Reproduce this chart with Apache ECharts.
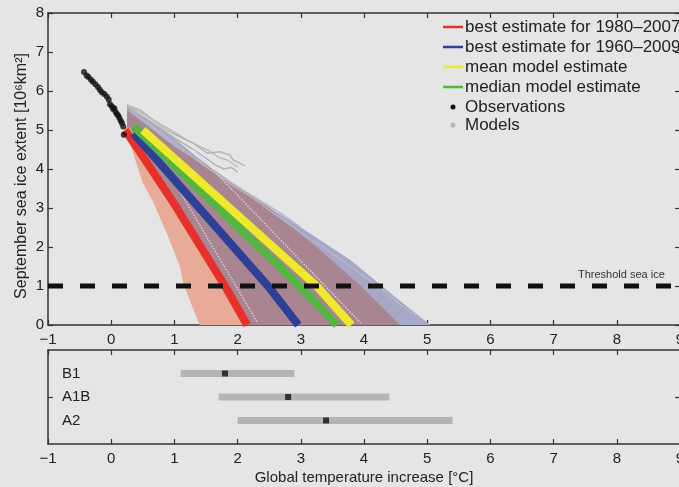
<!DOCTYPE html>
<html><head><meta charset="utf-8">
<script src="https://cdn.jsdelivr.net/npm/echarts@6/dist/echarts.min.js"></script>
<style>html,body{margin:0;padding:0;background:#e5e5e5}#c{width:679px;height:487px}</style>
</head><body><div id="c"></div>
<script>
// ---------- data ----------
const xTickValues = [-1,0,1,2,3,4,5,6,7,8,9];
const yTickValues = [0,1,2,3,4,5,6,7,8];
const obsX = [-0.43,-0.39,-0.36,-0.32,-0.29,-0.25,-0.21,-0.18,-0.15,-0.11,-0.07,-0.04,-0.02,0.01,0.03,0.05,0.07,0.09,0.11,0.13,0.15,0.17,0.19,0.20];
const obsY = [6.49,6.40,6.36,6.29,6.24,6.17,6.10,6.03,5.97,5.92,5.86,5.78,5.66,5.61,5.54,5.56,5.46,5.41,5.37,5.31,5.24,5.18,5.09,4.88];
const modelLine1 = [[0.25,5.64],[0.46,5.51],[0.66,5.26],[0.88,5.0],[1.09,4.82],[1.29,4.67],[1.52,4.41],[1.72,4.44],[1.88,4.36],[1.93,4.23],[2.12,4.08]];
const modelLine2 = [[0.3,5.55],[0.55,5.3],[0.8,5.02],[1.05,4.75],[1.3,4.5],[1.5,4.28],[1.65,4.1],[1.78,4.0],[1.9,4.04],[2.0,3.92]];
const modelLine3 = [[0.3,5.5],[0.6,5.15],[0.9,4.8],[1.2,4.42],[1.5,4.05],[1.8,3.75],[2.1,3.45],[2.4,3.15],[2.7,2.85],[3.0,2.5]];
const modelLine4 = [[0.35,5.45],[0.7,5.0],[1.0,4.6],[1.3,4.3],[1.6,3.95],[1.9,3.6],[2.2,3.3],[2.5,2.95],[2.8,2.6],[3.1,2.25],[3.4,1.95],[3.7,1.6],[4.0,1.25],[4.3,0.9],[4.6,0.5],[4.9,0.15]];
const modelLine5 = [[0.28,5.6],[0.5,5.42],[0.75,5.18],[1.0,4.95],[1.2,4.74],[1.4,4.58],[1.55,4.47],[1.7,4.3],[1.85,4.22],[2.0,4.05]];
const dotLine1 = [[1.3,4.5],[3.95,0.05]];
const dotLine2 = [[0.6,4.75],[2.32,0.05]];
const lavenderBand = [[0.25,5.62],[0.8,5.05],[1.4,4.25],[1.9,3.65],[2.31,3.21],[2.99,2.51],[3.4,2.08],[3.78,1.67],[4.36,0.9],[4.7,0.45],[5.05,0],[2.15,0],[0.25,5.0]];
const mauveBand = [[0.25,5.5],[0.9,4.7],[1.6,4.0],[2.5,3.0],[3.25,2.0],[3.95,1.0],[4.57,0],[2.15,0],[0.25,5.0]];
const salmonBand = [[0.2,5.1],[0.33,4.49],[0.5,3.64],[0.65,3.2],[0.88,2.36],[1.09,1.49],[1.14,1.08],[1.25,0.6],[1.4,0],[2.15,0],[0.3,5.05]];
const redLine = [[0.22,5.0],[0.43,4.49],[1.0,3.1],[1.8,1.0],[2.15,0]];
const blueLine = [[0.35,4.92],[2.48,1.0],[2.96,0]];
const greenLine = [[0.35,5.1],[2.98,1.0],[3.57,0]];
const yellowLine = [[0.5,5.0],[3.25,1.0],[3.8,0]];
const thresholdLine = [[-1,1],[9,1]];
const scenarios = ['B1','A1B','A2'];
const scenarioY = [3,2,1];
const scenarioLow = [1.1,1.7,2.0];
const scenarioHigh = [2.9,4.4,5.4];
const scenarioBest = [1.8,2.8,3.4];
const legendNames = ['best estimate for 1980\u20132007','best estimate for 1960\u20132009','mean model estimate','median model estimate','Observations','Models'];

// ---------- chart ----------
const FONT = 'Liberation Sans, Arial, sans-serif';
const AX = '#333';
const chart = echarts.init(document.getElementById('c'), null, {renderer:'canvas'});
const minus = v => String(v).replace('-', '\u2212');

function axisBase(extra){
  return Object.assign({
    axisLine:{show:true, onZero:false, lineStyle:{color:AX, width:1.5}},
    axisTick:{show:true, inside:true, length:5, lineStyle:{color:AX, width:1.2}},
    splitLine:{show:false},
    axisLabel:{show:false}
  }, extra);
}
function band(points, color){
  return {type:'custom', xAxisIndex:0, yAxisIndex:0, silent:true, z:1,
    data:[points[0]],
    renderItem:(p, api)=>({type:'polygon', shape:{points:points.map(pt=>api.coord(pt))}, style:{fill:color}})
  };
}
function line(points, color, width, z, type){
  return {type:'line', xAxisIndex:0, yAxisIndex:0, data:points, symbol:'none', silent:true, z:z,
    lineStyle:{color:color, width:width, type:type||'solid', cap:'butt'}};
}
const lbl = {color:'#222', fontSize:15, fontFamily:FONT};

const legendY = [27,47,67,87,107,125];
const legendColors = ['#e8302a','#2d3f96','#efe92c','#55b543'];
const legendGraphics = [];
legendNames.forEach((n,i)=>{
  if(i<4) legendGraphics.push({type:'line', shape:{x1:443,y1:legendY[i],x2:463,y2:legendY[i]}, style:{stroke:legendColors[i], lineWidth:2.5}});
  else legendGraphics.push({type:'circle', shape:{cx:453, cy:legendY[i], r:2.5}, style:{fill: i===4?'#111':'#b5b5b5'}});
  legendGraphics.push({type:'text', x:465, y:legendY[i], style:{text:n, fill:'#222', font:'17px '+FONT, textVerticalAlign:'middle'}});
});

chart.setOption({
  animation:false,
  backgroundColor:'#e5e5e5',
  grid:[{left:48, top:13, width:632, height:312, outerBoundsMode:'none', containLabel:false},
        {left:48, top:350, width:632, height:94, outerBoundsMode:'none', containLabel:false}],
  xAxis:[
    axisBase({type:'value', gridIndex:0, position:'bottom', min:-1, max:9, interval:1, axisLabel:Object.assign({show:true, margin:7, formatter:minus}, lbl)}),
    axisBase({type:'value', gridIndex:0, position:'top', min:-1, max:9, interval:1}),
    axisBase({type:'value', gridIndex:1, position:'bottom', min:-1, max:9, interval:1, axisLabel:Object.assign({show:true, margin:7, formatter:minus}, lbl),
      name:'Global temperature increase [\u00b0C]', nameLocation:'middle', nameGap:26, nameTextStyle:{color:'#222', fontSize:15, fontFamily:FONT}}),
    axisBase({type:'value', gridIndex:1, position:'top', min:-1, max:9, interval:1})
  ],
  yAxis:[
    axisBase({type:'value', gridIndex:0, position:'left', min:0, max:8, interval:1, axisLabel:Object.assign({show:true, margin:4}, lbl)}),
    axisBase({type:'value', gridIndex:0, position:'right', min:0, max:8, interval:1}),
    axisBase({type:'value', gridIndex:1, position:'left', min:0, max:4, interval:1,
      axisTick:{show:true, inside:true, length:5, customValues:[2], lineStyle:{color:AX, width:1.2}},
      axisLabel:Object.assign({show:true, inside:true, margin:14, customValues:[1,2,3], formatter:v=>scenarios[scenarioY.indexOf(v)]||''}, lbl)}),
    axisBase({type:'value', gridIndex:1, position:'right', min:0, max:4, interval:1,
      axisTick:{show:true, inside:true, length:5, customValues:[2], lineStyle:{color:AX, width:1.2}}})
  ],
  graphic:[
    {type:'text', x:22, y:176, rotation:Math.PI/2, style:{text:'September sea ice extent [10\u2076km\u00b2]', fill:'#222', font:'16px '+FONT, textAlign:'center', textVerticalAlign:'middle'}},
    {type:'text', x:578, y:275, style:{text:'Threshold sea ice', fill:'#333', font:'11px '+FONT, textVerticalAlign:'middle'}}
  ].concat(legendGraphics),
  series:[
    band(lavenderBand, '#a6a8c6'),
    band(mauveBand, '#a98592'),
    band(salmonBand, '#e7ab97'),
    line(modelLine4, '#b9b7c4', 1.3, 2),
    line(modelLine3, '#b9b7c4', 1.3, 2),
    line(modelLine5, '#b8b8b8', 1.3, 2),
    line(modelLine2, '#b5b5b5', 1.5, 2),
    line(modelLine1, '#b5b5b5', 1.5, 2),
    line(dotLine1, '#d9ced6', 1.5, 2, 'dotted'),
    line(dotLine2, '#d9ced6', 1.5, 2, 'dotted'),
    line(redLine, '#e8302a', 8, 3),
    line(blueLine, '#2d3f96', 8, 3),
    line(greenLine, '#55b543', 8, 3),
    line(yellowLine, '#efe92c', 8, 3),
    line(thresholdLine, '#111', 5, 4, [15,17]),
    {type:'scatter', xAxisIndex:0, yAxisIndex:0, symbol:'circle', symbolSize:6, itemStyle:{color:'#111'}, z:5,
      data:obsX.map((x,i)=>[x, obsY[i]])},
    {type:'custom', xAxisIndex:2, yAxisIndex:2, z:3,
      data:scenarios.map((s,i)=>[scenarioLow[i], scenarioHigh[i], scenarioY[i]]),
      renderItem:(p, api)=>{
        const a = api.coord([api.value(0), api.value(2)]);
        const b = api.coord([api.value(1), api.value(2)]);
        return {type:'rect', shape:{x:a[0], y:a[1]-3.5, width:b[0]-a[0], height:7}, style:{fill:'#b4b4b4'}};
      }},
    {type:'scatter', xAxisIndex:2, yAxisIndex:2, symbol:'rect', symbolSize:6, itemStyle:{color:'#111'}, z:4,
      data:scenarios.map((s,i)=>[scenarioBest[i], scenarioY[i]])}
  ]
});
</script></body></html>
